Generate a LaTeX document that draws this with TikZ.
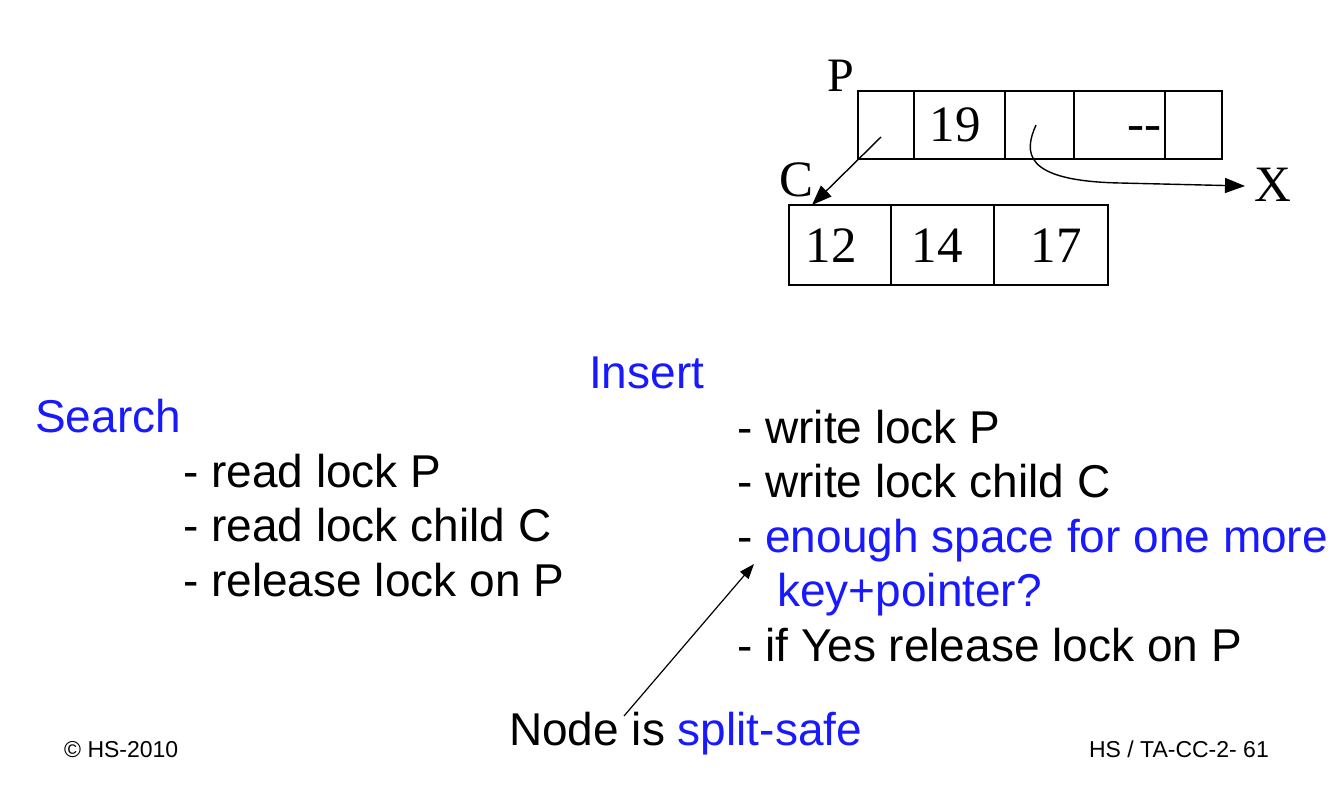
\documentclass[tikz,border=0pt]{standalone}
\usepackage{fontspec}
\setmainfont{Liberation Sans}
\newfontfamily\tms{Liberation Serif}
\usetikzlibrary{arrows.meta}
\definecolor{myblue}{RGB}{25,25,255}
\begin{document}
\begin{tikzpicture}[x=1pt,y=-1pt,
  cell/.style={draw,line width=1.3pt},
  lbl/.style={anchor=base,inner sep=0pt,font=\tms\fontsize{51}{56}\selectfont},
  txt/.style={anchor=base west,inner sep=0pt,font=\fontsize{46}{52}\selectfont},
  small/.style={anchor=base west,inner sep=0pt,font=\fontsize{23}{26}\selectfont},
  ptr/.style={line width=1.4pt,-{Triangle[length=20pt,width=15pt]}}]
\useasboundingbox[fill=white] (0,0) rectangle (1344,800);
% parent node P
\draw[cell] (858,91) rectangle (1222,159);
\foreach \xx in {914,1005,1074,1165} \draw[cell] (\xx,91) -- (\xx,159);
% child node C
\draw[cell] (789,205) rectangle (1108,285);
\foreach \xx in {891,994} \draw[cell] (\xx,205) -- (\xx,285);
% labels
\node[lbl,font=\tms\fontsize{48}{52}\selectfont] (lP) at (841,92) {P};
\node[lbl] (lC) at (796,196) {C};
\node[lbl] (lX) at (1273,201) {X};
\node[lbl] (k19) at (955,141) {19};
\node[lbl,anchor=base east] (kd) at (1162,140) {-{}-};
\node[lbl] (k12) at (831,262) {12};
\node[lbl] (k14) at (937,262) {14};
\node[lbl] (k17) at (1056,262) {17};
% pointers
\coordinate (p1) at (881,137);
\coordinate (c1) at (812,205);
\draw[ptr] (p1) -- (c1);
\coordinate (p3) at (1036,125);
\coordinate (xt) at (1245,186);
\draw[ptr] (p3) .. controls (1024,152) and (1022,181) .. (1120,183) -- (xt);
% Search
\node[txt,text=myblue] (search) at (35,432) {Search};
\node[txt] (s1) at (183,487) {- read lock P};
\node[txt] (s2) at (183,541) {- read lock child C};
\node[txt] (s3) at (183,596) {- release lock on P};
% Insert
\node[txt,text=myblue] (insert) at (589,388) {Insert};
\node[txt] (i1) at (737,443) {- write lock P};
\node[txt] (i2) at (737,497) {- write lock child C};
\node[txt] (i3) at (737,552) {- \textcolor{myblue}{enough space for one more}};
\node[txt,text=myblue] (i4) at (777,606) {key+pointer?};
\node[txt] (i5) at (737,661) {- if Yes release lock on P};
% split-safe
\node[txt] (ss) at (509,745) {Node is \textcolor{myblue}{split-safe}};
\coordinate (ssa) at (624,716);
\coordinate (ssb) at (754,564);
\draw[line width=1.2pt,-{Triangle[length=15pt,width=11pt]}] (ssa) -- (ssb);
% footer
\node[small] (copy) at (64,757) {© HS-2010};
\node[small,anchor=base east] (page) at (1269,757) {HS / TA-CC-2- 61};
\end{tikzpicture}
\end{document}
